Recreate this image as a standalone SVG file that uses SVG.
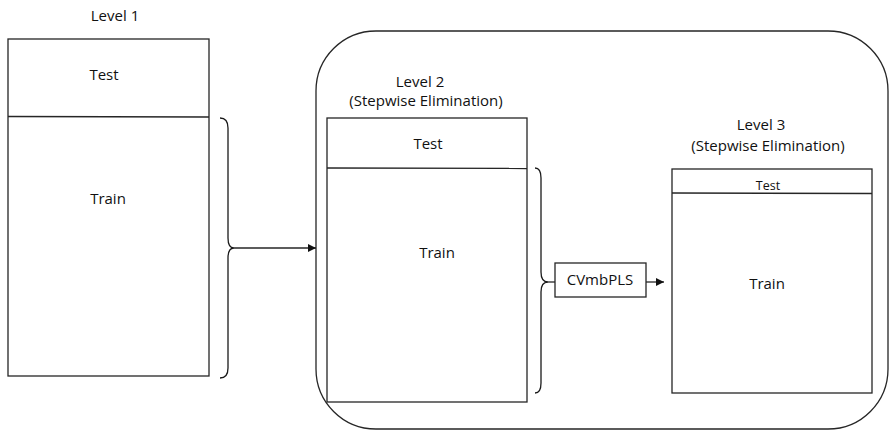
<svg xmlns="http://www.w3.org/2000/svg" width="889" height="431" viewBox="0 0 889 431">
  <style>
    .box { fill: #fff; stroke: #262626; stroke-width: 1.3; }
    .line { fill: none; stroke: #262626; stroke-width: 1.3; }
    .brace { fill: none; stroke: #1a1a1a; stroke-width: 1.3; }
    text { font-family: "Open Sans", "Liberation Sans", sans-serif; font-size: 15px; fill: #111; text-anchor: middle; }
    .small { font-size: 12.5px; }
  </style>
  <defs>
    <marker id="arrow" viewBox="0 0 10 10" refX="10" refY="5" markerWidth="8" markerHeight="8" markerUnits="userSpaceOnUse" orient="auto">
      <path d="M0,0 L10,5 L0,10 z" fill="#111"/>
    </marker>
  </defs>
  <rect width="889" height="431" fill="#fff"/>

  <!-- Outer rounded frame holding levels 2 and 3 -->
  <g id="frame">
    <rect x="316" y="31" width="572" height="398" rx="60" ry="60" class="line"/>
  </g>

  <g id="level1">
    <text x="115" y="21">Level 1</text>
    <rect x="8" y="39" width="201" height="337" class="box"/>
    <line x1="8" y1="116.5" x2="209" y2="117" class="line"/>
    <text x="104" y="80">Test</text>
    <text x="108" y="204">Train</text>
  </g>

  <g id="level2">
    <text x="420" y="87">Level 2</text>
    <text x="426" y="106">(Stepwise Elimination)</text>
    <rect x="327" y="118" width="200" height="284" class="box"/>
    <line x1="327" y1="168" x2="527" y2="168.5" class="line"/>
    <text x="428" y="149">Test</text>
    <text x="437" y="258">Train</text>
  </g>

  <g id="cvmbpls">
    <rect x="555" y="263" width="91" height="34" class="box"/>
    <text x="600" y="285">CVmbPLS</text>
  </g>

  <g id="level3">
    <text x="761" y="130">Level 3</text>
    <text x="768" y="151">(Stepwise Elimination)</text>
    <rect x="672" y="169" width="200" height="224" class="box"/>
    <line x1="672" y1="193" x2="872" y2="193.5" class="line"/>
    <text x="768" y="190" class="small">Test</text>
    <text x="767" y="289">Train</text>
  </g>

  <g id="connectors">
    <!-- brace over level 1 train -->
    <path class="brace" d="M220,118 Q228,118 228,128 L228,238 Q228,248 234,248 Q228,248 228,258 L228,368 Q228,378 220,378"/>
    <line x1="234" y1="248" x2="316" y2="248" class="line" marker-end="url(#arrow)"/>
    <!-- brace over level 2 train -->
    <path class="brace" d="M535,168 Q541,168 541,178 L541,272 Q541,282 548,282 Q541,282 541,292 L541,383 Q541,393 535,393"/>
    <line x1="548" y1="282" x2="555" y2="282" class="line"/>
    <line x1="646" y1="282" x2="664" y2="282" class="line" marker-end="url(#arrow)"/>
  </g>
</svg>
